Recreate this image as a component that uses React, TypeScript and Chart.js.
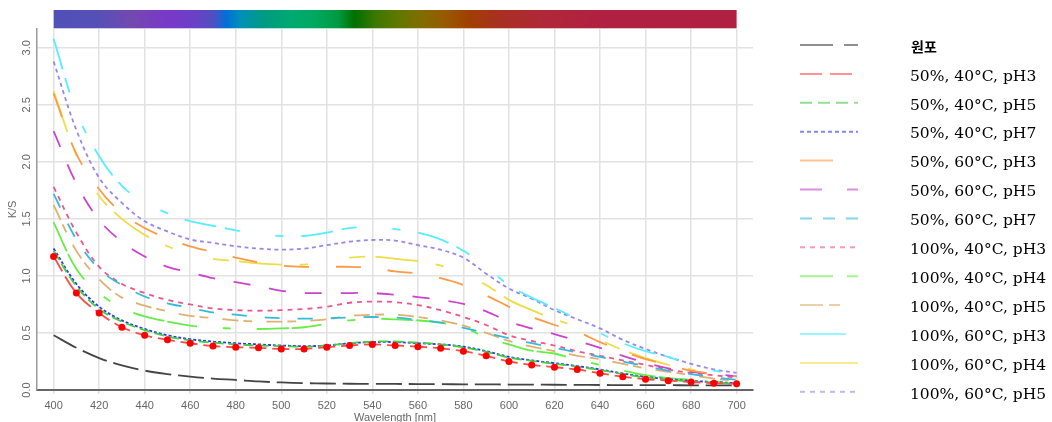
import { useEffect, useRef } from 'react';
import { Chart, registerables } from 'chart.js';

Chart.register(...registerables);

const wavelengths = [400, 410, 420, 430, 440, 450, 460, 470, 480, 490, 500, 510, 520, 530, 540, 550, 560, 570, 580, 590, 600, 610, 620, 630, 640, 650, 660, 670, 680, 690, 700];

const seriesLabels = [
  '원포',
  '50%, 40°C, pH3',
  '50%, 40°C, pH5',
  '50%, 40°C, pH7',
  '50%, 60°C, pH3',
  '50%, 60°C, pH5',
  '50%, 60°C, pH7',
  '100%, 40°C, pH3',
  '100%, 40°C, pH4',
  '100%, 40°C, pH5',
  '100%, 60°C, pH3',
  '100%, 60°C, pH4',
  '100%, 60°C, pH5',
];

const wonpo = [0.48, 0.37, 0.28, 0.215, 0.17, 0.14, 0.117, 0.10, 0.088, 0.075, 0.066, 0.06, 0.057, 0.055, 0.054, 0.053, 0.052, 0.051, 0.05, 0.049, 0.048, 0.047, 0.046, 0.045, 0.044, 0.043, 0.042, 0.042, 0.041, 0.04, 0.04];
const s50_40_pH3 = [1.17, 0.85, 0.675, 0.55, 0.48, 0.44, 0.41, 0.385, 0.375, 0.37, 0.36, 0.36, 0.375, 0.39, 0.40, 0.39, 0.38, 0.365, 0.34, 0.30, 0.25, 0.22, 0.20, 0.18, 0.146, 0.117, 0.094, 0.082, 0.07, 0.06, 0.055];
const s50_40_pH5 = [1.22, 0.91, 0.71, 0.60, 0.525, 0.47, 0.435, 0.415, 0.40, 0.39, 0.385, 0.38, 0.39, 0.41, 0.425, 0.425, 0.415, 0.40, 0.375, 0.335, 0.285, 0.255, 0.23, 0.205, 0.175, 0.14, 0.11, 0.09, 0.075, 0.065, 0.055];
const s50_40_pH7 = [1.24, 0.93, 0.73, 0.61, 0.535, 0.48, 0.445, 0.425, 0.41, 0.40, 0.39, 0.385, 0.39, 0.41, 0.42, 0.42, 0.41, 0.40, 0.38, 0.34, 0.29, 0.26, 0.235, 0.21, 0.18, 0.145, 0.115, 0.095, 0.08, 0.07, 0.06];
const s50_60_pH3 = [2.60, 2.07, 1.76, 1.55, 1.42, 1.33, 1.26, 1.21, 1.16, 1.12, 1.09, 1.08, 1.08, 1.08, 1.07, 1.04, 1.02, 0.98, 0.92, 0.83, 0.73, 0.64, 0.57, 0.51, 0.42, 0.34, 0.27, 0.22, 0.17, 0.14, 0.12];
const s50_60_pH5 = [2.27, 1.81, 1.49, 1.30, 1.17, 1.08, 1.03, 0.98, 0.945, 0.91, 0.87, 0.85, 0.85, 0.85, 0.85, 0.835, 0.815, 0.79, 0.755, 0.69, 0.60, 0.54, 0.49, 0.43, 0.37, 0.30, 0.24, 0.19, 0.16, 0.14, 0.12];
const s50_60_pH7 = [1.72, 1.32, 1.06, 0.92, 0.82, 0.76, 0.72, 0.68, 0.66, 0.64, 0.63, 0.625, 0.63, 0.635, 0.64, 0.635, 0.615, 0.59, 0.545, 0.50, 0.455, 0.41, 0.37, 0.33, 0.29, 0.25, 0.21, 0.17, 0.14, 0.11, 0.09];
const s100_40_pH3 = [1.78, 1.38, 1.08, 0.93, 0.85, 0.79, 0.75, 0.715, 0.70, 0.695, 0.70, 0.71, 0.73, 0.765, 0.775, 0.77, 0.745, 0.70, 0.64, 0.57, 0.48, 0.43, 0.39, 0.34, 0.30, 0.26, 0.22, 0.18, 0.15, 0.13, 0.11];
const s100_40_pH4 = [1.47, 1.06, 0.85, 0.72, 0.645, 0.60, 0.565, 0.545, 0.54, 0.535, 0.54, 0.55, 0.58, 0.61, 0.625, 0.62, 0.61, 0.59, 0.55, 0.46, 0.40, 0.345, 0.32, 0.265, 0.22, 0.17, 0.13, 0.105, 0.09, 0.075, 0.065];
const s100_40_pH5 = [1.62, 1.22, 0.97, 0.81, 0.74, 0.69, 0.65, 0.63, 0.61, 0.60, 0.60, 0.605, 0.62, 0.65, 0.66, 0.66, 0.64, 0.61, 0.565, 0.50, 0.43, 0.38, 0.34, 0.30, 0.27, 0.23, 0.19, 0.16, 0.13, 0.10, 0.08];
const s100_60_pH3 = [3.08, 2.44, 2.05, 1.79, 1.64, 1.55, 1.48, 1.44, 1.40, 1.37, 1.35, 1.35, 1.38, 1.42, 1.43, 1.41, 1.38, 1.32, 1.22, 1.08, 0.92, 0.81, 0.72, 0.62, 0.50, 0.41, 0.34, 0.29, 0.22, 0.17, 0.14];
const s100_60_pH4 = [2.62, 2.06, 1.70, 1.50, 1.36, 1.26, 1.19, 1.15, 1.13, 1.11, 1.10, 1.10, 1.13, 1.16, 1.17, 1.15, 1.13, 1.09, 1.02, 0.92, 0.79, 0.70, 0.62, 0.55, 0.44, 0.35, 0.28, 0.22, 0.18, 0.14, 0.12];
const s100_60_pH5 = [2.88, 2.28, 1.86, 1.64, 1.48, 1.39, 1.32, 1.29, 1.26, 1.24, 1.23, 1.24, 1.27, 1.30, 1.315, 1.31, 1.27, 1.23, 1.16, 1.02, 0.89, 0.80, 0.70, 0.62, 0.54, 0.44, 0.36, 0.29, 0.23, 0.18, 0.15];

const seriesValues = [wonpo, s50_40_pH3, s50_40_pH5, s50_40_pH7, s50_60_pH3, s50_60_pH5, s50_60_pH7, s100_40_pH3, s100_40_pH4, s100_40_pH5, s100_60_pH3, s100_60_pH4, s100_60_pH5];

const seriesColors = ['#444444', '#ff4a4a', '#44cc44', '#2a36ee', '#ff9944', '#cc44cc', '#33bbdd', '#ee5588', '#66ee44', '#e0b070', '#55eeff', '#eedd44', '#9b87ec'];

const chartDashes = [
  [26, 7],
  [17, 6],
  [10, 5],
  [3, 2],
  [25, 27],
  [17, 19],
  [15, 18],
  [5, 5],
  [32, 3, 30, 26, 8, 26],
  [16, 5, 9, 14],
  [32, 9, 15, 36, 8, 18],
  [43, 18, 8, 42, 16, 10],
  [4, 3.5],
];

const legendDashes = [
  [33, 11],
  [22, 8],
  [12, 6],
  [4, 3],
  [33, 40],
  [22, 25],
  [12, 11],
  [5, 5],
  [33, 14],
  [23, 6, 11, 18],
  [46, 20],
  [],
  [5, 5],
];

const yTickStep = 0.5;
const xTickStep = 20;

const spectrumStops: [number, string][] = [
  [400, '#5050b8'],
  [420, '#5650b6'],
  [435, '#7448b0'],
  [450, '#7a38c8'],
  [462, '#6a40c8'],
  [470, '#5050c0'],
  [476, '#0070d8'],
  [482, '#0090b8'],
  [492, '#009a82'],
  [505, '#00aa70'],
  [515, '#00a860'],
  [525, '#009a40'],
  [532, '#007000'],
  [542, '#3e7800'],
  [552, '#627800'],
  [562, '#826c00'],
  [572, '#965a00'],
  [582, '#a04000'],
  [595, '#a83020'],
  [615, '#b02838'],
  [640, '#b02040'],
  [700, '#b02040'],
];

const spectrumPlugin = {
  id: 'spectrumBar',
  afterDraw(chart: any) {
    const { ctx } = chart;
    const xs = chart.scales.x;
    const first = spectrumStops[0][0];
    const last = spectrumStops[spectrumStops.length - 1][0];
    const x0 = xs.getPixelForValue(first);
    const x1 = xs.getPixelForValue(last);
    const g = ctx.createLinearGradient(x0, 0, x1, 0);
    spectrumStops.forEach(([wl, c]) => g.addColorStop((wl - first) / (last - first), c));
    ctx.save();
    ctx.fillStyle = g;
    ctx.fillRect(x0, 10, x1 - x0, 18.3);
    ctx.restore();
  },
};

const yLabelPlugin = {
  id: 'yRotLabels',
  afterDraw(chart: any) {
    const { ctx } = chart;
    const ys = chart.scales.y;
    ctx.save();
    ctx.fillStyle = '#666';
    ctx.font = "11px 'Liberation Sans', Arial, sans-serif";
    ctx.textAlign = 'center';
    ctx.textBaseline = 'middle';
    ys.ticks.forEach((t: any) => {
      const py = ys.getPixelForValue(t.value);
      ctx.save();
      ctx.translate(27, py);
      ctx.rotate(-Math.PI / 2);
      ctx.fillText(Number(t.value).toFixed(1), 0, 0);
      ctx.restore();
    });
    ctx.restore();
  },
};

const legendPlugin = {
  id: 'sideLegend',
  afterDraw(chart: any) {
    const { ctx } = chart;
    ctx.save();
    seriesLabels.forEach((label, i) => {
      const y = 45 + 28.9 * i;
      ctx.save();
      ctx.globalAlpha = 0.6;
      ctx.strokeStyle = seriesColors[i];
      ctx.lineWidth = 2;
      ctx.setLineDash(legendDashes[i]);
      ctx.beginPath();
      ctx.moveTo(800, y);
      ctx.lineTo(858, y);
      ctx.stroke();
      ctx.restore();
      ctx.fillStyle = '#000';
      ctx.textAlign = 'left';
      ctx.textBaseline = 'alphabetic';
      if (i === 0) {
        ctx.font = "bold 14px 'Noto Sans CJK KR', sans-serif";
        ctx.fillText(label, 911, y + 6.5);
      } else {
        ctx.font = "15.5px 'DejaVu Serif', serif";
        ctx.fillText(label, 910, y + 6.7);
      }
    });
    ctx.restore();
  },
};

export default function App() {
  const ref = useRef<HTMLCanvasElement | null>(null);

  useEffect(() => {
    if (!ref.current) return;
    Chart.defaults.font.family = "'Liberation Sans', Arial, sans-serif";
    const datasets = seriesValues.map((vals, i) => ({
      label: seriesLabels[i],
      data: vals.map((v, j) => ({ x: wavelengths[j], y: v })),
      borderColor: seriesColors[i],
      backgroundColor: seriesColors[i],
      borderWidth: 1.8,
      borderDash: chartDashes[i],
      pointRadius: i === 1 ? 3.5 : 0,
      pointBackgroundColor: '#ff0000',
      pointBorderWidth: 0,
      tension: 0.35,
      fill: false,
      order: i === 1 ? -1 : 0,
    }));

    const chart = new Chart(ref.current, {
      type: 'line',
      data: { datasets },
      plugins: [spectrumPlugin, yLabelPlugin, legendPlugin],
      options: {
        responsive: false,
        animation: false,
        layout: { padding: { left: 0, right: 299, top: 29, bottom: 0 } },
        plugins: { legend: { display: false }, tooltip: { enabled: false } },
        scales: {
          x: {
            type: 'linear',
            min: 392.7,
            max: 707.2,
            ticks: {
              stepSize: xTickStep,
              includeBounds: false,
              color: '#666',
              font: { size: 11 },
              padding: 5,
              maxRotation: 0,
              autoSkip: false,
            },
            grid: { color: '#e2e2e2', lineWidth: 1.5, tickLength: 4, drawTicks: true },
            border: { color: '#666', width: 2 },
            title: {
              display: true,
              text: 'Wavelength [nm]',
              color: '#666',
              font: { size: 11 },
              padding: { top: 0, bottom: -3 },
            },
            afterFit: (s: any) => { s.height = 32; },
          },
          y: {
            type: 'linear',
            min: 0,
            max: 3.165,
            ticks: { stepSize: yTickStep, includeBounds: false, display: false },
            grid: { color: '#e2e2e2', lineWidth: 1.5, drawTicks: false },
            border: { color: '#999', width: 1.5 },
            title: {
              display: true,
              text: 'K/S',
              color: '#666',
              font: { size: 11 },
              padding: { top: 6.5, bottom: 0 },
            },
            afterFit: (s: any) => { s.width = 37; },
          },
        },
      } as any,
    });
    return () => chart.destroy();
  }, []);

  return (
    <div style={{ position: 'absolute', left: 0, top: 0, width: 1052, height: 422, background: '#fff' }}>
      <canvas ref={ref} width={1052} height={422} style={{ display: 'block' }} />
    </div>
  );
}
